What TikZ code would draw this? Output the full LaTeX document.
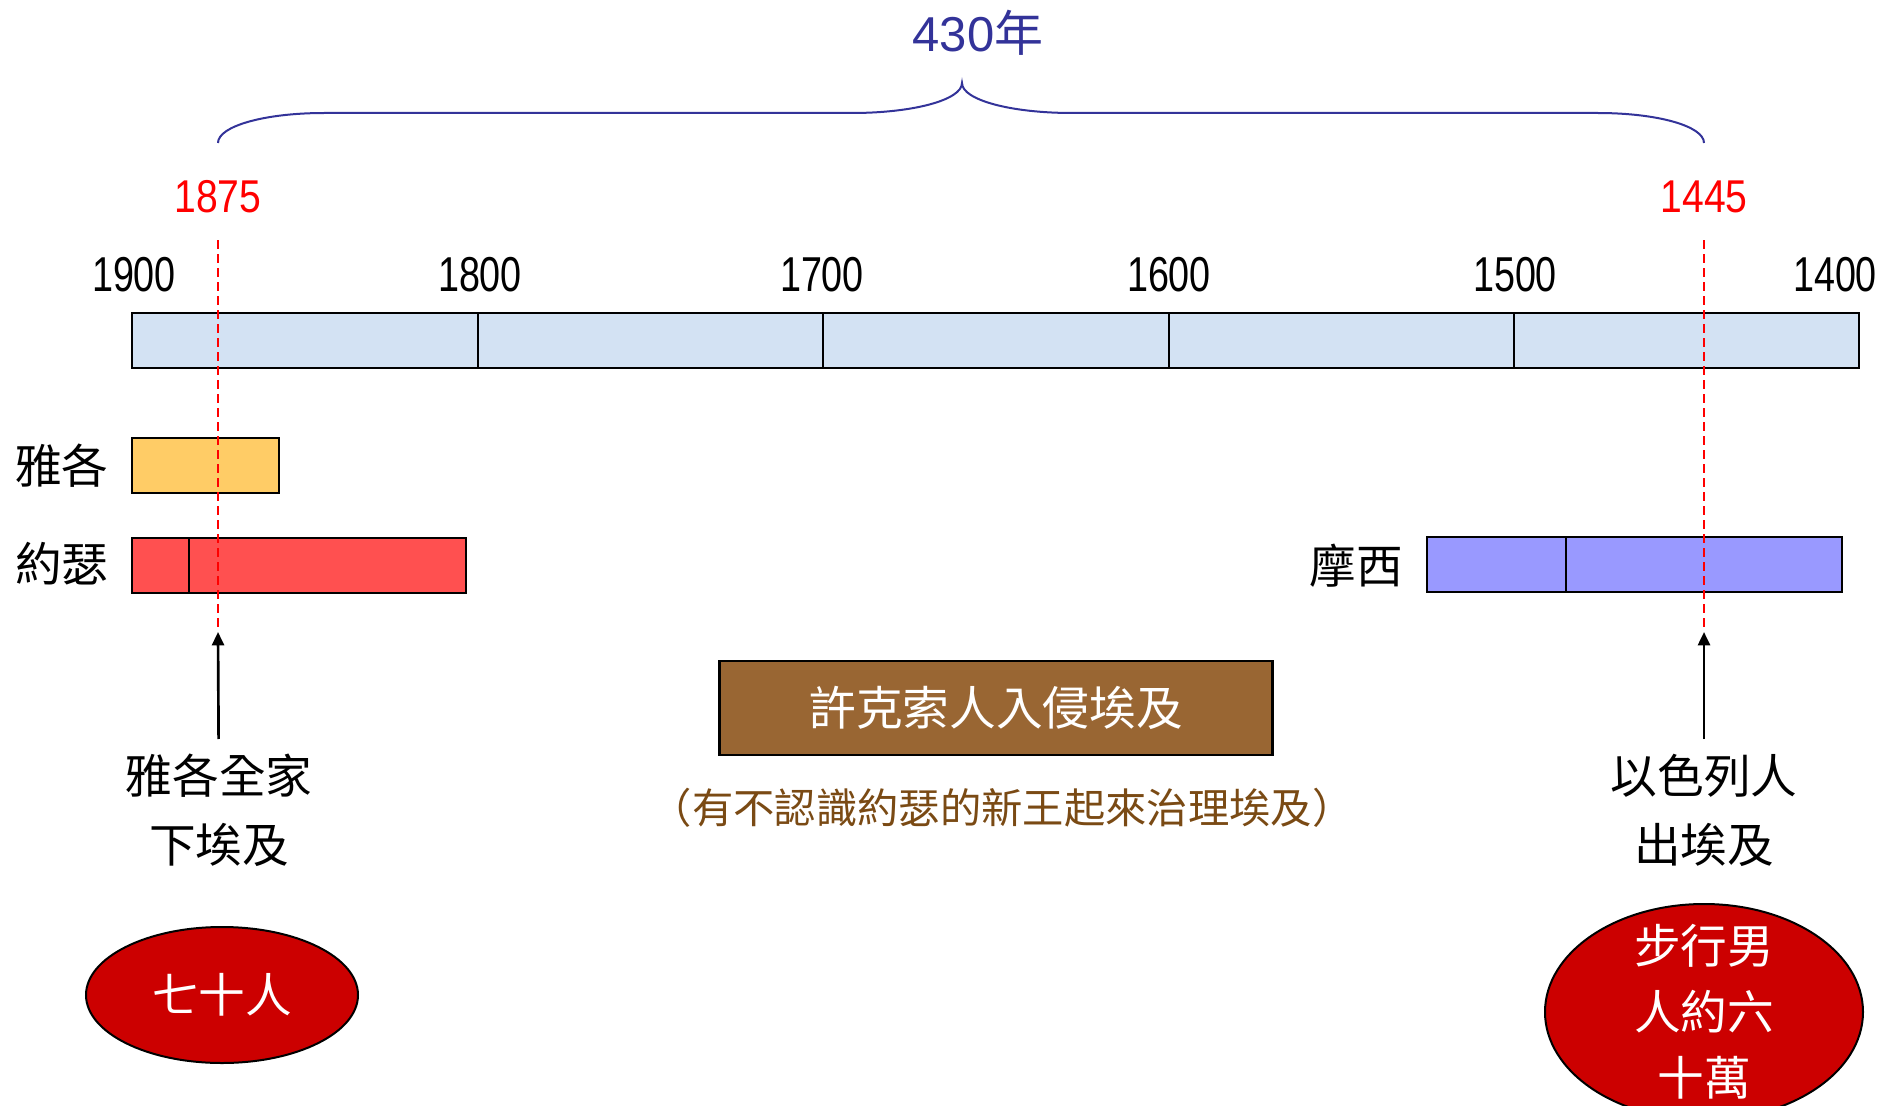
\documentclass[tikz,border=0pt]{standalone}
\usepackage{fontspec}
\usepackage{xcolor}
\usepackage{tikz}
\usetikzlibrary{arrows.meta,shapes.geometric}
\setmainfont{Noto Sans CJK TC}
\newfontfamily\cjkfont{Noto Sans CJK TC}
\newfontfamily\yrfont{Liberation Sans}[FakeStretch=0.77]
\newfontfamily\redfont{Liberation Sans}[FakeStretch=0.85]
\newfontfamily\numfont{Liberation Sans}
\definecolor{spancol}{HTML}{333399}
\definecolor{barcol}{HTML}{D3E2F3}
\definecolor{jacobcol}{HTML}{FFCC66}
\definecolor{josephcol}{HTML}{FF5050}
\definecolor{mosescol}{HTML}{9999FF}
\definecolor{hyksoscol}{HTML}{996633}
\definecolor{notecol}{HTML}{7A4A14}
\definecolor{ovalcol}{HTML}{CC0000}

\begin{document}
\begin{tikzpicture}[x=0.75pt,y=-0.75pt,
  every node/.style={inner sep=0pt,font=\fontsize{35}{51.75}\selectfont},
  yr/.style={font=\yrfont\fontsize{36.75}{40}\selectfont},
  redyr/.style={font=\redfont\fontsize{34.5}{40}\selectfont,text=red},
  barbox/.style={draw=black,line width=1.8pt},
  div/.style={line width=1.2pt},
  guide/.style={red,line width=1.5pt,dash pattern=on 7pt off 3.5pt},
  arr/.style={-{Triangle[length=10pt,width=9pt]},line width=2pt},
  lbl/.style={align=center,outer ysep=11pt},
  oval/.style={ellipse,draw=black,fill=ovalcol,line width=1.5pt},
  intext/.style={text=white,align=center}]
\useasboundingbox (0,0) rectangle (1882,1106);
\draw[barbox,line width=2.2pt,fill=barcol] (132,313) rectangle (1859,368);
\foreach \x in {478,823,1169,1514} \draw[div] (\x,313) -- (\x,368);
\foreach \x/\y in {134/1900,480/1800,822/1700,1169/1600,1515/1500,1835/1400}
  \node[yr] (y\y) at (\x,275) {\y};
\node[redyr] (start) at (218,197) {1875};
\node[redyr] (end) at (1704,197) {1445};
\node[font=\numfont\fontsize{36.75}{40}\selectfont,text=spancol] (span) at (978,33) {430{\cjkfont 年}};
\draw[spancol,line width=1.5pt] (218,143) .. controls (218,126) and (265,113) .. (324,113) -- (852,113)
  .. controls (913,113) and (962,100) .. (962,83) .. controls (962,100) and (1011,113) .. (1072,113)
  -- (1598,113) .. controls (1657,113) and (1704,126) .. (1704,143);
\draw[barbox,fill=jacobcol] (132,438) rectangle (279,493);
\draw[barbox,fill=josephcol] (132,538) rectangle (466,593);
\draw[div] (189,538) -- (189,593);
\draw[barbox,fill=mosescol] (1427,537) rectangle (1842,592);
\draw[div] (1566,537) -- (1566,592);
\node (jacob) at (62,466) {雅各};
\node (joseph) at (62,564) {約瑟};
\node (moses) at (1356,566) {摩西};
\coordinate (jtop) at (218,240);
\coordinate (jtip) at (218,632);
\coordinate (etop) at (1704,240);
\coordinate (etip) at (1704,632);
\draw[guide] (jtop) -- (jtip);
\draw[guide] (etop) -- (etip);
\node[lbl] (jacobfam) at (219,810) {雅各全家\\下埃及};
\node[lbl] (israel) at (1704,810) {以色列人\\出埃及};
\draw[arr] (jacobfam) -- (jtip);
\draw[arr] (israel) -- (etip);
\node[draw=black,line width=1.8pt,fill=hyksoscol,text=white,minimum width=415pt,minimum height=70.5pt] (hyksos) at (996,708) {許克索人入侵埃及};
\node[text=notecol,font=\fontsize{31}{36}\selectfont] (newking) at (1002,808) {（有不認識約瑟的新王起來治理埃及）};
\node[oval,intext,minimum width=204pt,minimum height=102pt] (seventy) at (222,995) {七十人};
\node[oval,minimum width=238.5pt,minimum height=162pt] (exodus) at (1704,1012) {};
\node[intext,font=\fontsize{35}{49.5}\selectfont] (exodusnum) at (exodus) {步行男\\人約六\\十萬};
\end{tikzpicture}
\end{document}
